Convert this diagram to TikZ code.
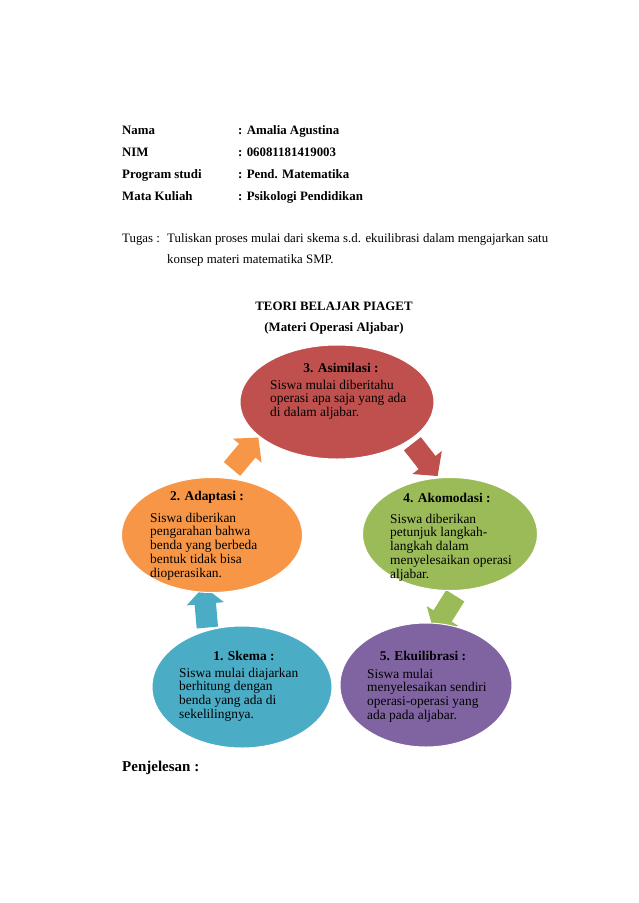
\documentclass[tikz,border=0pt]{standalone}
\usepackage{fontspec}
\setmainfont{Liberation Serif}
\usepackage{tikz}
\usetikzlibrary{shapes.geometric,shapes.arrows}

\definecolor{asimred}{HTML}{C0504D}
\definecolor{adaporange}{HTML}{F79646}
\definecolor{akomgreen}{HTML}{9BBB59}
\definecolor{skemablue}{HTML}{4BACC6}
\definecolor{ekuipurple}{HTML}{8064A2}

\begin{document}
\begin{tikzpicture}[x=1pt, y=-1pt,
  head/.style={anchor=base west, inner sep=0pt, font=\fontsize{12.86}{15}\selectfont\bfseries},
  plain/.style={anchor=base west, inner sep=0pt, font=\fontsize{12.86}{15}\selectfont},
  phase/.style={ellipse, draw=white, line width=1pt, inner sep=0pt},
  phasehd/.style={anchor=base, inner sep=0pt, font=\fontsize{13.4}{14}\selectfont\bfseries},
  phasetx/.style={anchor=base west, inner sep=0pt, font=\fontsize{13.4}{13.8}\selectfont},
  turn/.style={single arrow, inner xsep=0pt, inner ysep=10.5pt, minimum height=41,
    minimum width=37, single arrow head extend=8pt, single arrow tip angle=95}]

  % Page (A4 at 638 x 903 px)
  \fill[white] (0,0) rectangle (638,903);
  \useasboundingbox (0,0) rectangle (638,903);

  % Identity block
  \foreach \yy/\key/\val [count=\i] in {134/Nama/Amalia Agustina, 156/NIM/06081181419003,
      178/Program studi/Pend. Matematika, 200/Mata Kuliah/Psikologi Pendidikan} {
    \node[head] (key\i) at (122,\yy) {\key};
    \node[head] (val\i) at (238,\yy) {: \val};
  }

  % Task
  \node[plain] (tugas) at (122,242) {Tugas :};
  \node[plain] (tugas1) at (167,242)
    {\makebox[381pt][s]{Tuliskan proses mulai dari skema s.d. ekuilibrasi dalam mengajarkan satu}};
  \node[plain] (tugas2) at (167,263) {konsep materi matematika SMP.};

  % Heading
  \node[head, anchor=base] (title) at (334,310) {TEORI BELAJAR PIAGET};
  \node[head, anchor=base] (subtitle) at (334,331) {(Materi Operasi Aljabar)};

  % Cycle arrows (behind the ellipses)
  \node[turn, fill=adaporange, rotate=50] (arAdap) at (242,457) {};
  \node[turn, fill=asimred, rotate=-52] (arAsim) at (422,456) {};
  \node[turn, fill=akomgreen, rotate=-122] (arAkom) at (447,609) {};
  \node[turn, fill=skemablue, rotate=95] (arSkema) at (206,612) {};

  % Phases
  \node[phase, fill=asimred, minimum width=194, minimum height=114] (asim) at (337,402) {};
  \node[phase, fill=adaporange, minimum width=181, minimum height=115] (adap) at (212,535) {};
  \node[phase, fill=akomgreen, minimum width=175, minimum height=113] (akom) at (450,534) {};
  \node[phase, fill=skemablue, minimum width=180, minimum height=122] (skema) at (242,687) {};
  \node[phase, fill=ekuipurple, minimum width=172, minimum height=124] (ekui) at (426,685) {};

  % 3. Asimilasi
  \node[phasehd] (asimhd) at (341,372) {3. Asimilasi :};
  \node[phasetx] (asimtx) at (270,389) {\begin{tabular}[t]{@{}l@{}}
    Siswa mulai diberitahu\\ operasi apa saja yang ada\\ di dalam aljabar.\end{tabular}};

  % 2. Adaptasi
  \node[phasehd] (adaphd) at (207,500) {2. Adaptasi :};
  \node[phasetx] (adaptx) at (150,522) {\begin{tabular}[t]{@{}l@{}}
    Siswa diberikan\\ pengarahan bahwa\\ benda yang berbeda\\ bentuk tidak bisa\\ dioperasikan.\end{tabular}};

  % 4. Akomodasi
  \node[phasehd] (akomhd) at (447,502) {4. Akomodasi :};
  \node[phasetx] (akomtx) at (390,523) {\begin{tabular}[t]{@{}l@{}}
    Siswa diberikan\\ petunjuk langkah-\\ langkah dalam\\ menyelesaikan operasi\\ aljabar.\end{tabular}};

  % 1. Skema
  \node[phasehd] (skemahd) at (244,660) {1. Skema :};
  \node[phasetx] (skematx) at (179,677) {\begin{tabular}[t]{@{}l@{}}
    Siswa mulai diajarkan\\ berhitung dengan\\ benda yang ada di\\ sekelilingnya.\end{tabular}};

  % 5. Ekuilibrasi
  \node[phasehd] (ekuihd) at (423,660) {5. Ekuilibrasi :};
  \node[phasetx] (ekuitx) at (367,678) {\begin{tabular}[t]{@{}l@{}}
    Siswa mulai\\ menyelesaikan sendiri\\ operasi-operasi yang\\ ada pada aljabar.\end{tabular}};

  % Closing heading
  \node[head, font=\fontsize{15}{18}\selectfont\bfseries] (penj) at (122,771) {Penjelesan :};
\end{tikzpicture}
\end{document}
